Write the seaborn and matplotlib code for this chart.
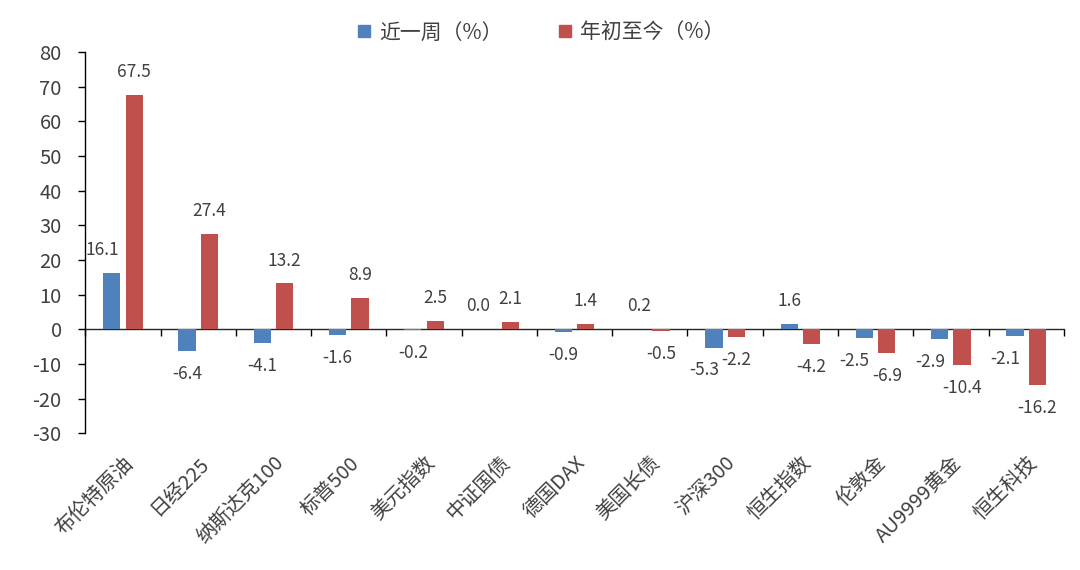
import numpy as np
import pandas as pd
import matplotlib
matplotlib.use("Agg")
import matplotlib.pyplot as plt
import seaborn as sns
from matplotlib.lines import Line2D

# data
categories = ["布伦特原油", "日经225", "纳斯达克100", "标普500", "美元指数", "中证国债",
              "德国DAX", "美国长债", "沪深300", "恒生指数", "伦敦金", "AU9999黄金", "恒生科技"]
week_chg = [16.1, -6.4, -4.1, -1.6, -0.2, 0.0, -0.9, 0.2, -5.3, 1.6, -2.5, -2.9, -2.1]
ytd_chg = [67.5, 27.4, 13.2, 8.9, 2.5, 2.1, 1.4, -0.5, -2.2, -4.2, -6.9, -10.4, -16.2]
series_names = ["近一周（%）", "年初至今（%）"]
colors = ["#4F81BD", "#C0504D"]
y_ticks = list(range(-30, 90, 10))

sns.set_style("white")
plt.rcParams['font.family'] = ['Noto Sans CJK SC', 'DejaVu Sans']
plt.rcParams['axes.unicode_minus'] = False

df = pd.DataFrame({
    "cat": categories * 2,
    "val": week_chg + ytd_chg,
    "series": [series_names[0]] * len(categories) + [series_names[1]] * len(categories),
})

fig = plt.figure(figsize=(10.8, 5.7), dpi=100)
ax = fig.add_axes([0.079, 0.240, 0.906, 0.669])

sns.barplot(data=df, x="cat", y="val", hue="series", palette=colors,
            width=0.594, gap=0.23, ax=ax, legend=False, saturation=1, linewidth=0)

blue_labels = ax.bar_label(ax.containers[0], fmt="{:.1f}", padding=10, fontsize=12.5, color="#404040")
ax.bar_label(ax.containers[1], fmt="{:.1f}", padding=10, fontsize=12.5, color="#404040")

# like Excel: nudge the blue label left when the red bar sits on the same side
for lbl, w, y in zip(blue_labels, week_chg, ytd_chg):
    if (w >= 0) == (y >= 0):
        x0, y0 = lbl.xyann
        lbl.xyann = (x0 - 7, y0)

ax.set_ylim(-30, 80)
ax.set_yticks(y_ticks)
ax.set_xlim(-0.5, len(categories) - 0.5)
ax.set_xlabel("")
ax.set_ylabel("")

for s in ["top", "right", "bottom"]:
    ax.spines[s].set_visible(False)
ax.spines["left"].set_color("#000000")
ax.spines["left"].set_linewidth(1.0)

ax.tick_params(axis="y", direction="out", length=5, width=1, colors="#000000",
               labelsize=14.5, labelcolor="#404040", left=True, pad=12)
ax.tick_params(axis="x", length=0, pad=14, labelsize=14.5, labelcolor="#404040")
plt.setp(ax.get_xticklabels(), rotation=45, ha="right", rotation_mode="anchor")

# zero line with ticks between categories
sec = ax.secondary_xaxis(0, transform=ax.transData)
sec.set_xticks(np.arange(-0.5, len(categories), 1.0))
sec.set_xticklabels([])
sec.tick_params(direction="out", length=5, width=1, colors="#000000")
sec.spines["bottom"].set_linewidth(1.0)

handles = [Line2D([], [], marker="s", linestyle="", markersize=8, color=c) for c in colors]
fig.legend(handles, series_names, loc="center", bbox_to_anchor=(0.5, 0.943), ncol=2,
           frameon=False, fontsize=15, handlelength=0.8, handletextpad=0.3,
           columnspacing=2.6, labelcolor="#404040")

fig.savefig("out.png", dpi=100)
